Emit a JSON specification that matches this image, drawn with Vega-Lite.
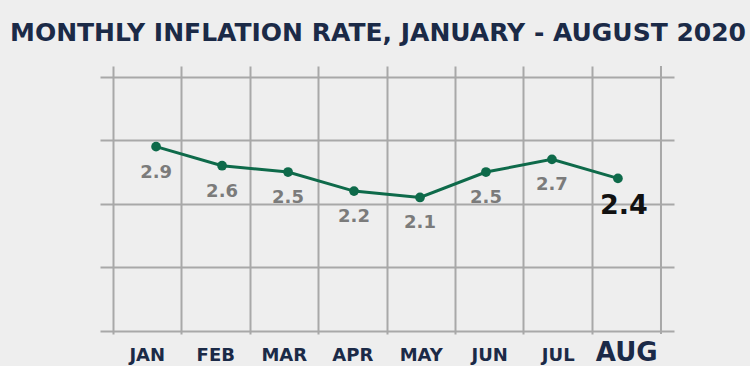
{
  "$schema": "https://vega.github.io/schema/vega-lite/v6.json",
  "width": 574,
  "height": 268,
  "autosize": "none",
  "padding": {"left": 100, "top": 66, "right": 76, "bottom": 32},
  "background": "#eeeeee",
  "config": {"view": {"stroke": null}},
  "title": {
    "text": "MONTHLY INFLATION RATE, JANUARY - AUGUST 2020",
    "anchor": "start",
    "dx": -90,
    "dy": 27,
    "offset": 26,
    "baseline": "alphabetic",
    "font": "DejaVu Sans",
    "fontWeight": "bold",
    "fontSize": 25,
    "color": "#1b2a47"
  },
  "data": {
    "values": [
      {"month": "JAN", "rate": 2.9},
      {"month": "FEB", "rate": 2.6},
      {"month": "MAR", "rate": 2.5},
      {"month": "APR", "rate": 2.2},
      {"month": "MAY", "rate": 2.1},
      {"month": "JUN", "rate": 2.5},
      {"month": "JUL", "rate": 2.7},
      {"month": "AUG", "rate": 2.4}
    ]
  },
  "layer": [
    {
      "layer": [
        {
          "transform": [{"filter": "datum.month === 'AUG'"}],
          "mark": {"type": "rule", "color": "#a8a8a8", "strokeWidth": 2},
          "encoding": {
            "x": {
              "field": "month", "type": "nominal", "sort": null, "bandPosition": 1,
              "scale": {"type": "band", "domain": ["JAN","FEB","MAR","APR","MAY","JUN","JUL","AUG"], "paddingInner": 0, "paddingOuter": 0.19},
              "axis": {
                "title": null, "domain": false, "ticks": false, "grid": true, "bandPosition": 0,
                "gridColor": "#a8a8a8", "gridWidth": 2, "gridOpacity": 1,
                "labelOffset": 0, "labelPadding": 26, "labelBaseline": "alphabetic",
                "labelFont": "DejaVu Sans", "labelFontWeight": "bold", "labelColor": "#1b2a47",
                "labelFontSize": {"condition": {"test": "datum.value === 'AUG'", "value": 26}, "value": 18},
                "labelAngle": 0
              }
            },
            "y": {
              "datum": -0.05, "type": "quantitative",
              "scale": {"domain": [-0.05, 4.17], "nice": false, "zero": false},
              "axis": {"title": null, "values": [0, 1, 2, 3, 4], "labels": false, "ticks": false, "domain": false, "grid": true, "gridColor": "#a8a8a8", "gridWidth": 2, "gridOpacity": 1}
            },
            "y2": {"datum": 4.17}
          }
        }
      ]
    },
    {
      "encoding": {
        "x": {"field": "month", "type": "nominal", "sort": null, "scale": {"type": "point", "padding": 0.85}, "axis": null},
        "y": {"field": "rate", "type": "quantitative", "scale": {"domain": [-0.05, 4.17], "nice": false, "zero": false}}
      },
      "layer": [
        {"mark": {"type": "line", "color": "#0e6a4a", "strokeWidth": 3}},
        {"mark": {"type": "circle", "color": "#0e6a4a", "opacity": 1, "size": 95}},
        {
          "transform": [{"filter": "datum.month !== 'AUG'"}],
          "mark": {"type": "text", "dy": 31, "baseline": "alphabetic", "font": "DejaVu Sans", "fontWeight": "bold", "fontSize": 18, "color": "#7b7b7b"},
          "encoding": {"text": {"field": "rate", "type": "quantitative", "format": ".1f"}}
        },
        {
          "transform": [{"filter": "datum.month === 'AUG'"}],
          "mark": {"type": "text", "dy": 36, "dx": 6, "baseline": "alphabetic", "font": "DejaVu Sans", "fontWeight": "bold", "fontSize": 27, "color": "#111111"},
          "encoding": {"text": {"field": "rate", "type": "quantitative", "format": ".1f"}}
        }
      ]
    }
  ],
  "resolve": {"scale": {"x": "independent"}}
}
